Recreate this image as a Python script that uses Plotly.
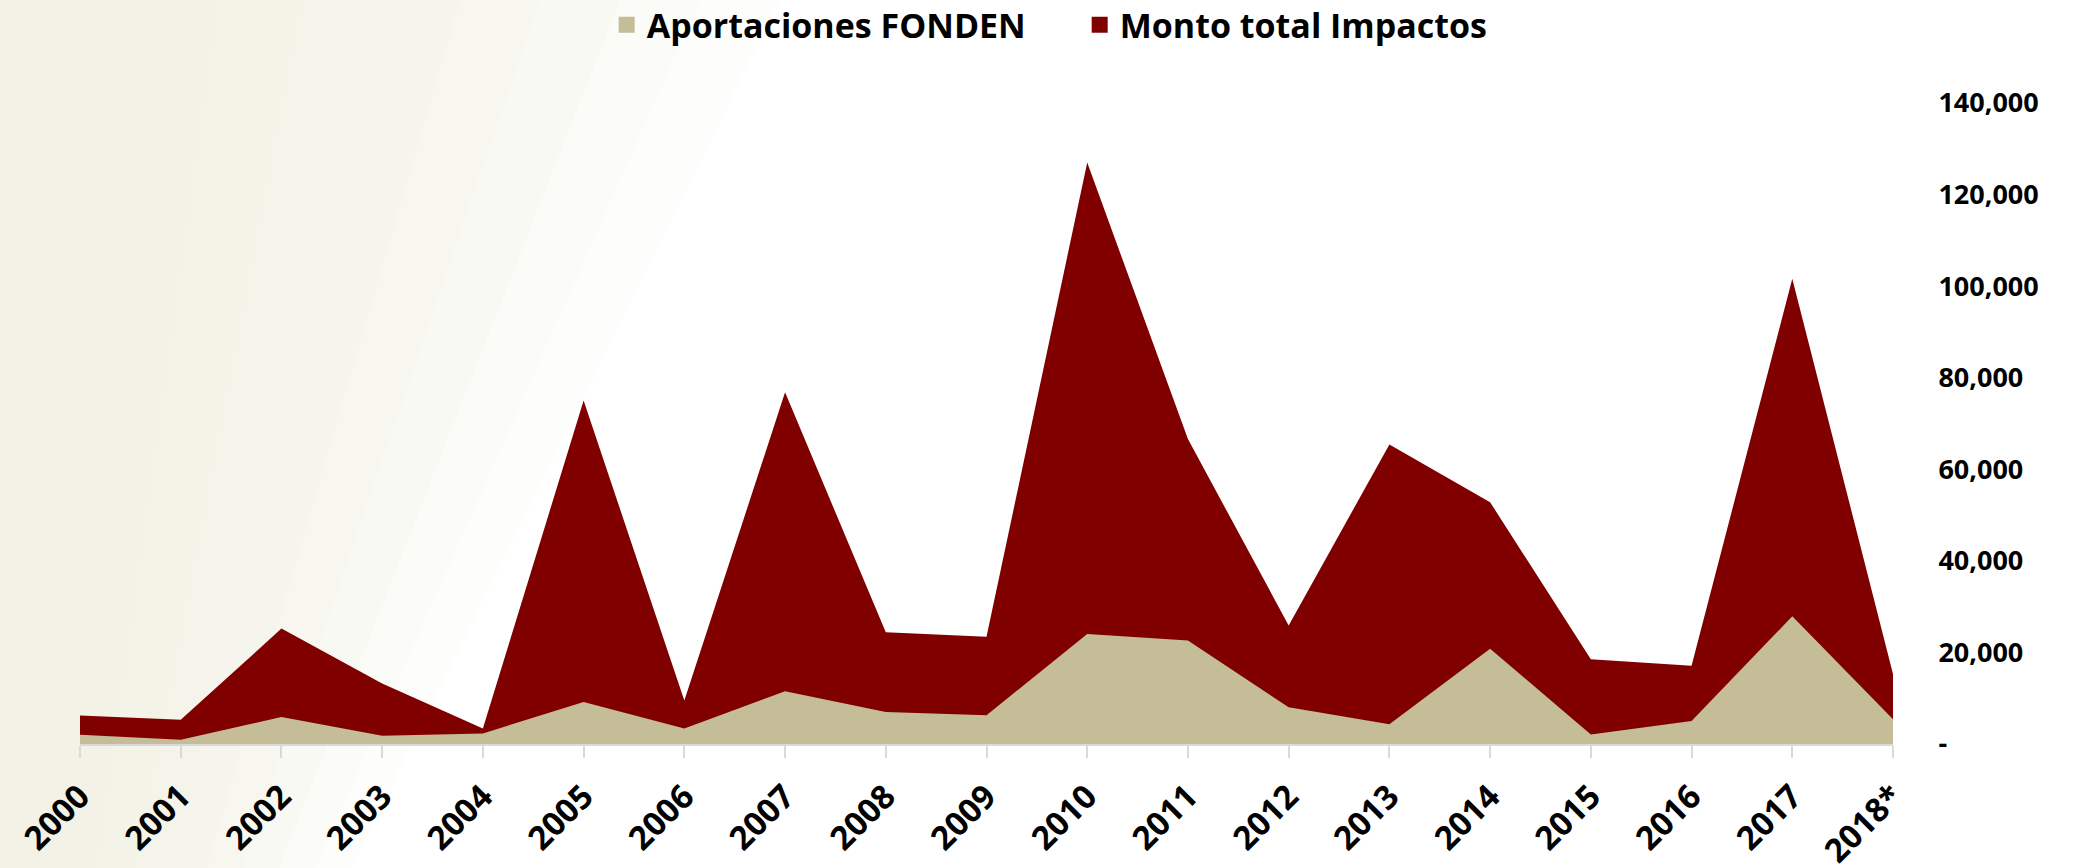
import plotly.graph_objects as go

years = ["2000", "2001", "2002", "2003", "2004", "2005", "2006", "2007", "2008", "2009",
         "2010", "2011", "2012", "2013", "2014", "2015", "2016", "2017", "2018*"]
monto_total = [6200, 5300, 25200, 13200, 3400, 75000, 9500, 76800, 24400, 23400,
               127000, 66600, 25900, 65400, 52800, 18500, 17100, 101600, 15300]
aportaciones_fonden = [2000, 950, 5900, 1800, 2300, 9200, 3400, 11500, 7000, 6300,
                       24000, 22600, 8000, 4300, 20800, 2100, 5000, 27900, 5400]
y_tickvals = [0, 20000, 40000, 60000, 80000, 100000, 120000, 140000]
y_ticktext = ["-", "20,000", "40,000", "60,000", "80,000", "100,000", "120,000", "140,000"]

RED = "#800000"
TAN = "#C4BD97"
FONT = "Open Sans"

W, H = 2092, 868
L, R, T, B = 80, 199, 103, 124

fig = go.Figure()
x_idx = list(range(len(years)))

fig.add_trace(go.Scatter(x=x_idx, y=monto_total, mode="lines", fill="tozeroy",
                         line=dict(color=RED, width=0), fillcolor=RED,
                         showlegend=False, hoverinfo="skip"))
fig.add_trace(go.Scatter(x=x_idx, y=aportaciones_fonden, mode="lines", fill="tozeroy",
                         line=dict(color=TAN, width=0), fillcolor=TAN,
                         showlegend=False, hoverinfo="skip"))
# legend entries (square swatches)
fig.add_trace(go.Scatter(x=[None], y=[None], mode="markers", name="Aportaciones FONDEN",
                         marker=dict(symbol="square", size=16, color=TAN)))
fig.add_trace(go.Scatter(x=[None], y=[None], mode="markers", name="Monto total Impactos",
                         marker=dict(symbol="square", size=16, color=RED)))

# background decoration (light beige fade at left)
pw = W - L - R
ph = H - T - B
def px2paper(px, py):
    return (px - L) / pw, (H - B - py) / ph

shapes = []
for k in range(8):
    xt = 220 + k * 80
    xb = xt * 0.45
    pts = [(0, 0), (xt, 0), (xb, H), (0, H)]
    path = "M " + " L ".join(f"{px2paper(a, b)[0]:.4f},{px2paper(a, b)[1]:.4f}" for a, b in pts) + " Z"
    shapes.append(dict(type="path", xref="paper", yref="paper", path=path,
                       fillcolor="#EDE8DB", opacity=0.10, line=dict(width=0), layer="below"))

fig.update_layout(
    width=W, height=H,
    margin=dict(l=L, r=R, t=T, b=B, autoexpand=False),
    paper_bgcolor="white",
    plot_bgcolor="rgba(0,0,0,0)",
    shapes=shapes,
    font=dict(family=FONT, color="black"),
    legend=dict(orientation="h", xref="container", yref="container",
                x=0.290, y=0.971, xanchor="left", yanchor="middle",
                font=dict(family=FONT, size=34, color="black", weight="bold"),
                bgcolor="rgba(0,0,0,0)", itemwidth=30, entrywidth=428),
    xaxis=dict(
        range=[0, len(years) - 1], tickmode="array", tickvals=x_idx, ticktext=years,
        tickangle=-45, showgrid=False, zeroline=False, automargin=False,
        showline=True, linecolor="#D9D9D9", linewidth=2,
        ticks="outside", ticklen=12, tickwidth=2, tickcolor="#D9D9D9",
        tickfont=dict(family=FONT, size=33, color="black", weight="bold"),
        ticklabelstandoff=6,
    ),
    yaxis=dict(
        side="right", range=[0, 140000], tickmode="array", tickvals=y_tickvals,
        ticktext=y_ticktext, showgrid=False, zeroline=False, showline=False,
        automargin=False,
        ticks="outside", ticklen=39, tickcolor="rgba(0,0,0,0)",
        tickfont=dict(family=FONT, size=27, color="black", weight="bold"),
    ),
)

fig.write_html("out.html", config={"displayModeBar": False},
               post_script="document.body.style.margin='0';")
